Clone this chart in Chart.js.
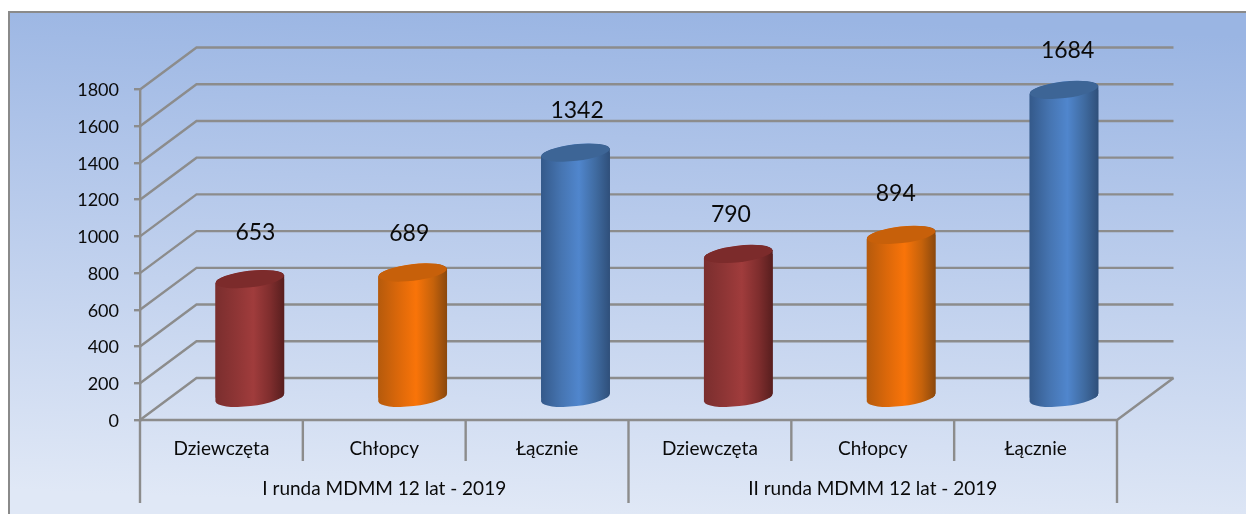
<!DOCTYPE html>
<html><head><meta charset="utf-8">
<style>html,body{margin:0;padding:0;background:#fff;overflow:hidden}canvas{display:block}</style>
<script src="https://cdn.jsdelivr.net/npm/chart.js@4"></script></head>
<body><canvas id="c" width="1246" height="514"></canvas>
<script>
const categories = ["Dziewczęta","Chłopcy","Łącznie","Dziewczęta","Chłopcy","Łącznie"];
const groupLabels = ["I runda MDMM 12 lat - 2019","II runda MDMM 12 lat - 2019"];
const values = [653,689,1342,790,894,1684];
const seriesName = "Liczba";
const labelNudgeX = [6,-3,2,-7,-5,4];
const labelNudgeY = [-47,-39,-42,-39,-41,-39];
const red = {l:"#7a2e2e",a:"#8e3535",m:"#a03c3c",b:"#7e2d2d",r:"#571e1e",top:"#7c2b2b"};
const orange = {l:"#b55a0c",a:"#dc680a",m:"#f97409",b:"#c5620b",r:"#8a480d",top:"#c7600a"};
const blue = {l:"#34598a",a:"#4675b2",m:"#5086cd",b:"#3f6a9f",r:"#2f4f7a",top:"#3d6596"};
const palette = [red,orange,blue,red,orange,blue];

const DX=28.4, DY=-21, BACKX=56.5, BACKY=-42, GRID="#8c8c8c", RX=34.4, RY=8.3, TILT=-0.115, SLOPE=4;
const BAR_PCT=0.424;
function bodyGradient(chart,i){
  const xs=chart.scales.x, c=xs.getPixelForValue(i), h=xs.width/6*BAR_PCT/2;
  const g=chart.ctx.createLinearGradient(c-h,0,c+h,0), p=palette[i];
  g.addColorStop(0,p.l); g.addColorStop(0.3,p.a); g.addColorStop(0.55,p.m); g.addColorStop(0.8,p.b); g.addColorStop(1,p.r);
  return g;
}
function line(ctx,a,b,c,d){ctx.beginPath();ctx.moveTo(a,b);ctx.lineTo(c,d);ctx.stroke();}
function silhouette(ctx,el){
  const cx=el.x, t=el.y, b=el.base, l=cx-RX, r=cx+RX;
  ctx.moveTo(l,t+SLOPE);ctx.lineTo(r,t-SLOPE);ctx.lineTo(r,b-SLOPE);ctx.lineTo(l,b+SLOPE);ctx.closePath();
  ctx.moveTo(cx+RX,b);ctx.ellipse(cx,b,RX,RY,TILT,0,Math.PI*2);ctx.closePath();
  ctx.moveTo(cx+RX,t);ctx.ellipse(cx,t,RX,RY,TILT,0,Math.PI*2);ctx.closePath();
}
const scene={
  id:"scene",
  beforeDraw(chart){
    const ctx=chart.ctx;
    ctx.save();
    ctx.fillStyle="#fff";ctx.fillRect(0,0,1246,514);
    const g=ctx.createLinearGradient(640,12,620,514);
    g.addColorStop(0,"#9ab5e3");g.addColorStop(0.35,"#b3c7ea");g.addColorStop(1,"#e0e8f6");
    ctx.fillStyle=g;ctx.fillRect(9,12,1237,502);
    ctx.strokeStyle="#8a8a8a";ctx.lineWidth=2;
    ctx.beginPath();ctx.moveTo(9,514);ctx.lineTo(9,12);ctx.lineTo(1246,12);ctx.stroke();
    ctx.restore();
  },
  beforeDatasetsDraw(chart){
    const ctx=chart.ctx, y=chart.scales.y, x=chart.scales.x, L=x.left, R=x.right;
    ctx.save();ctx.strokeStyle=GRID;ctx.lineWidth=2.4;ctx.lineJoin="miter";
    y.ticks.forEach(t=>{
      const p=y.getPixelForValue(t.value);
      ctx.beginPath();ctx.moveTo(L,p);ctx.lineTo(L+BACKX,p+BACKY);ctx.lineTo(R+BACKX,p+BACKY);ctx.stroke();
    });
    const z=y.getPixelForValue(0);
    ctx.beginPath();ctx.moveTo(L,z);ctx.lineTo(R,z);ctx.lineTo(R+BACKX,z+BACKY);ctx.stroke();
    const w=(R-L)/categories.length;
    for(let i=0;i<=categories.length;i++){
      line(ctx,L+w*i,z,L+w*i,z+(i%3===0?83:41));
    }
    ctx.restore();
  },
  beforeDatasetDraw(chart){
    const ctx=chart.ctx, els=chart.getDatasetMeta(0).data;
    ctx.save();ctx.translate(DX,DY);
    els.forEach((el,i)=>{
      ctx.fillStyle=bodyGradient(chart,i);
      ctx.beginPath();silhouette(ctx,el);ctx.fill();
    });
    ctx.beginPath();els.forEach(el=>silhouette(ctx,el));ctx.clip();
  },
  afterDatasetDraw(chart){
    const ctx=chart.ctx, els=chart.getDatasetMeta(0).data;
    els.forEach((el,i)=>{
      ctx.fillStyle=palette[i].top;
      ctx.beginPath();ctx.ellipse(el.x,el.y,RX,RY,TILT,0,Math.PI*2);ctx.fill();
    });
    ctx.restore();
  },
  afterDatasetsDraw(chart){
    const ctx=chart.ctx, els=chart.getDatasetMeta(0).data, x=chart.scales.x;
    ctx.save();
    ctx.fillStyle="#0a0a0a";ctx.textAlign="center";ctx.textBaseline="middle";
    ctx.font='23px Lato';
    els.forEach((el,i)=>ctx.fillText(String(values[i]),el.x+28+labelNudgeX[i],el.y+DY+labelNudgeY[i]));
    ctx.font='19px Lato';
    const w=x.width/2;
    groupLabels.forEach((t,i)=>ctx.fillText(t,x.left+w*(i+0.5),489));
    ctx.restore();
  }
};
new Chart(document.getElementById("c"),{
  type:"bar",
  data:{labels:categories,datasets:[{label:seriesName,data:values,
    backgroundColor:c=>c.chart.chartArea?bodyGradient(c.chart,c.dataIndex):"#888",
    borderWidth:0,categoryPercentage:1,barPercentage:BAR_PCT,clip:false}]},
  options:{
    responsive:false,animation:false,
    layout:{padding:{left:0,top:89.5,right:129,bottom:0}},
    plugins:{legend:{display:false},tooltip:{enabled:false},title:{display:false}},
    scales:{
      x:{grid:{display:false,drawTicks:false},border:{display:false},
        ticks:{color:"#0a0a0a",font:{family:"Lato",size:19},padding:17,maxRotation:0,autoSkip:false},
        afterFit(s){s.height=94;}},
      y:{min:0,max:1800,
        grid:{drawOnChartArea:false,color:GRID,lineWidth:2.4,tickLength:6},
        border:{display:true,color:GRID,width:2.4},
        ticks:{stepSize:200,color:"#0a0a0a",font:{family:"Lato",size:18},padding:15,labelOffset:1,callback:v=>String(v)},
        afterFit(s){s.width=140;}}
    }
  },
  plugins:[scene]
});
</script></body></html>
